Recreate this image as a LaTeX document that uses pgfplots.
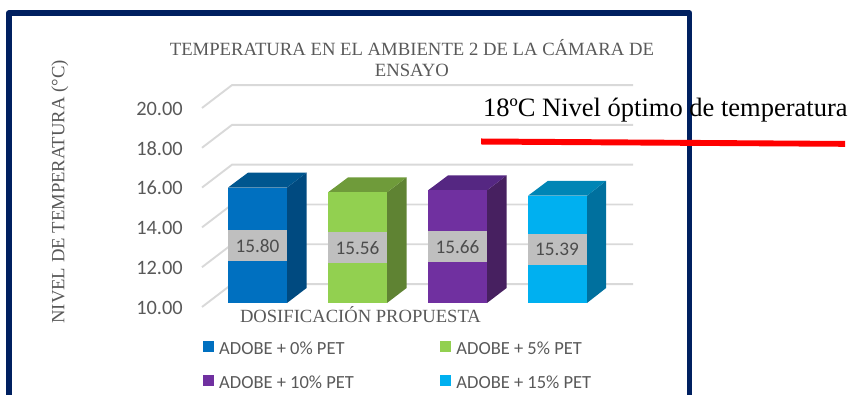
\documentclass[border=0pt]{standalone}
\usepackage{pgfplots}
\pgfplotsset{compat=1.18}
\usepackage{fontspec}
\setmainfont{Carlito}
\newfontfamily\serif{Liberation Serif}
\definecolor{navy}{HTML}{002060}
\definecolor{txt}{HTML}{595959}
\definecolor{gridc}{HTML}{D9D9D9}
\definecolor{lab}{HTML}{BFBFBF}
\definecolor{bA}{HTML}{0070C0}\definecolor{bAs}{HTML}{004A80}\definecolor{bAt}{HTML}{00568F}
\definecolor{bB}{HTML}{92D050}\definecolor{bBs}{HTML}{5F8333}\definecolor{bBt}{HTML}{6F9B3A}
\definecolor{bC}{HTML}{7030A0}\definecolor{bCs}{HTML}{472060}\definecolor{bCt}{HTML}{552782}
\definecolor{bD}{HTML}{00B0F0}\definecolor{bDs}{HTML}{00709E}\definecolor{bDt}{HTML}{0085B5}
\begin{document}
\begin{tikzpicture}[x=1pt,y=1pt]
\useasboundingbox (0,0) rectangle (849,395);
\begin{axis}[
  at={(202pt,92pt)}, anchor=origin,
  x=1pt, y=19.9pt,
  xmin=202, xmax=633, ymin=10, ymax=20,
  clip=false,
  axis line style={draw=none},
  major tick length=0pt,
  xtick=\empty,
  ytick={10,12,14,16,18,20},
  /pgf/number format/assume math mode=true,
  /pgf/number format/fixed, /pgf/number format/zerofill, /pgf/number format/precision=2,
  yticklabel style={anchor=east, inner sep=0pt, xshift=-19pt, yshift=-4.5pt, text=txt, font=\fontsize{20.4}{22}\selectfont},
  title={TEMPERATURA EN EL AMBIENTE 2 DE LA CÁMARA DE\\ENSAYO},
  title style={at={(axis description cs:0.487,1.200)}, anchor=center, align=center, text=txt, inner sep=0pt, font=\serif\fontsize{18.7}{21}\selectfont},
  ylabel={NIVEL DE TEMPERATURA (°C)},
  ylabel style={at={(axis description cs:-0.33,0.558)}, anchor=center, inner sep=0pt, text=txt, font=\serif\fontsize{18.7}{20}\selectfont},
  xlabel={DOSIFICACIÓN PROPUESTA},
  xlabel style={at={(axis description cs:0.3677,-0.056)}, anchor=center, inner sep=0pt, text=txt, font=\serif\fontsize{18.6}{20}\selectfont},
  legend columns=2,
  legend style={at={(axis cs:203,8.12)}, anchor=north west, draw=none, fill=none, inner sep=0pt, font=\fontsize{18.5}{20}\selectfont, text=txt,
    nodes={inner sep=0pt, text height=12pt, text depth=3pt},
    row sep=17pt},
  legend cell align=left,
  /tikz/every even column/.style={column sep=86.5pt},
  legend image code/.code={\fill[#1] (0pt,-1.5pt) rectangle (11pt,9.5pt); \path (16pt,0pt);},
]
% back-wall gridlines
\addplot[gridc, line width=1.9pt, forget plot] coordinates {(202,9.8)(232,10.95)(633,10.95)};
\addplot[gridc, line width=1.9pt, forget plot] coordinates {(202,11.8)(232,12.95)(633,12.95)};
\addplot[gridc, line width=1.9pt, forget plot] coordinates {(202,13.8)(232,14.95)(633,14.95)};
\addplot[gridc, line width=1.9pt, forget plot] coordinates {(202,15.8)(232,16.95)(633,16.95)};
\addplot[gridc, line width=1.9pt, forget plot] coordinates {(202,17.8)(232,18.95)(633,18.95)};
\addplot[gridc, line width=1.9pt, forget plot] coordinates {(202,19.8)(232,20.95)(633,20.95)};
% bar sides and tops
\addplot[fill=bAs, draw=none, forget plot] coordinates {(287,10)(306.5,10.75)(306.5,16.55)(287,15.80)} -- cycle;
\addplot[fill=bAt, draw=none, forget plot] coordinates {(228,15.80)(287,15.80)(306.5,16.55)(248,16.55)} -- cycle;
\addplot[fill=bBs, draw=none, forget plot] coordinates {(387,10)(406.5,10.75)(406.5,16.31)(387,15.56)} -- cycle;
\addplot[fill=bBt, draw=none, forget plot] coordinates {(328,15.56)(387,15.56)(406.5,16.31)(348,16.31)} -- cycle;
\addplot[fill=bCs, draw=none, forget plot] coordinates {(487,10)(506.5,10.75)(506.5,16.41)(487,15.66)} -- cycle;
\addplot[fill=bCt, draw=none, forget plot] coordinates {(428,15.66)(487,15.66)(506.5,16.41)(448,16.41)} -- cycle;
\addplot[fill=bDs, draw=none, forget plot] coordinates {(587,10)(606,10.75)(606,16.14)(587,15.39)} -- cycle;
\addplot[fill=bDt, draw=none, forget plot] coordinates {(528,15.39)(587,15.39)(606,16.14)(548,16.14)} -- cycle;
% bar fronts
\addplot[ybar, bar width=59, bar shift=0pt, fill=bA, draw=none] coordinates {(257.5,15.80)};
\addplot[ybar, bar width=59, bar shift=0pt, fill=bB, draw=none] coordinates {(357.5,15.56)};
\addplot[ybar, bar width=59, bar shift=0pt, fill=bC, draw=none] coordinates {(457.5,15.66)};
\addplot[ybar, bar width=59, bar shift=0pt, fill=bD, draw=none] coordinates {(557.5,15.39)};
\legend{ADOBE + 0\% PET, ADOBE + 5\% PET, ADOBE + 10\% PET, ADOBE + 15\% PET}
% data labels
\addplot[draw=none, forget plot, point meta=explicit symbolic,
  nodes near coords,
  nodes near coords style={anchor=center, fill=lab, text=txt!85!black, inner sep=0pt, minimum width=59pt, minimum height=31pt, font=\fontsize{19.2}{20}\selectfont}]
  coordinates {(257.5,12.87)[15.80] (357.5,12.77)[15.56] (457.5,12.83)[15.66] (557,12.68)[15.39]};
\end{axis}
% frame and annotation
\draw[navy, line width=5.5pt, line join=round] (8.8,-5) -- (8.8,382) -- (689.5,382) -- (689.5,-5);
\node[anchor=west, inner sep=0pt, font=\serif\fontsize{26.5}{28}\selectfont] at (483,285) {18ºC Nivel óptimo de temperatura};
\fill[red] (481,256.5) -- (845,254) -- (845,248.2) -- (481,250.5) -- cycle;
\end{tikzpicture}
\end{document}
